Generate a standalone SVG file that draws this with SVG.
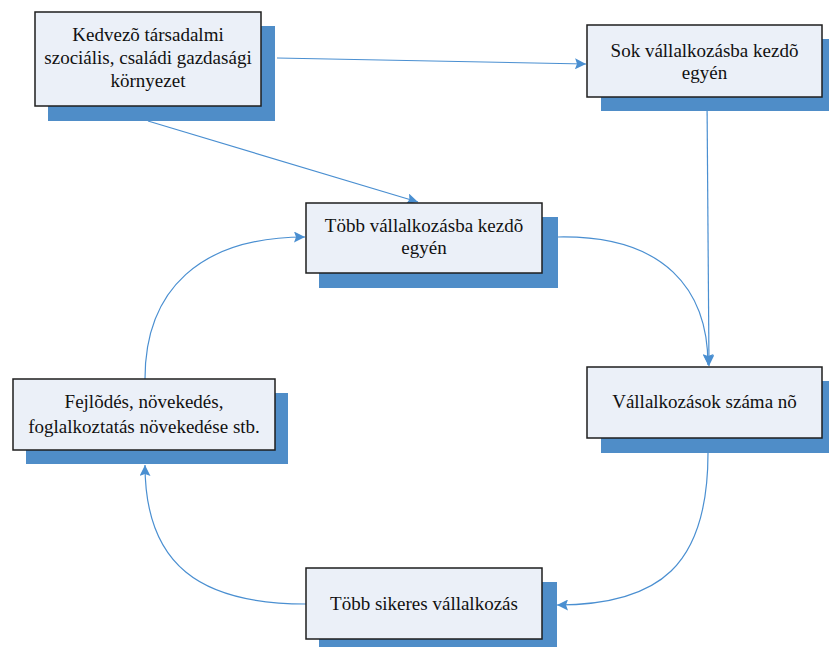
<svg xmlns="http://www.w3.org/2000/svg" width="829" height="647" viewBox="0 0 829 647">
<defs>
<marker id="arr" markerWidth="12" markerHeight="11" refX="11" refY="5.5" orient="auto" markerUnits="userSpaceOnUse">
<path d="M0,0 L11,5.5 L0,11 L2,5.5 Z" fill="#4A8FD1"/>
</marker>
<style>
.sh{fill:#4F8DC8;}
.bx{fill:#EBF0F8;stroke:#1E1E1E;stroke-width:1.5;}
.t{font-family:"Liberation Serif","Times New Roman",serif;font-size:19px;fill:#111;text-anchor:middle;}
.c{fill:none;stroke:#4A8FD1;stroke-width:1.2;marker-end:url(#arr);}
</style>
</defs>
<rect width="829" height="647" fill="#fff"/>
<g id="connectors">
<path class="c" d="M277,58 L586,64"/>
<path class="c" d="M148,121 L418,202"/>
<path class="c" d="M707,97 L709,366"/>
<path class="c" d="M558,237 C665,235 708,290 708,365"/>
<path class="c" d="M708,453 C708,565 660,605 557,605"/>
<path class="c" d="M306,604 C200,604 145,565 145,465"/>
<path class="c" d="M145,379 C145,290 200,237 305,237"/>
</g>
<g id="n1">
<rect class="sh" x="48" y="26" width="227" height="95"/>
<rect class="bx" x="35" y="12" width="226" height="94"/>
<text class="t" x="148" y="41">Kedvezõ társadalmi</text>
<text class="t" x="148" y="64">szociális, családi gazdasági</text>
<text class="t" x="148" y="87">környezet</text>
</g>
<g id="n2">
<rect class="sh" x="601" y="39" width="240" height="72"/>
<rect class="bx" x="587" y="25" width="235" height="72"/>
<text class="t" x="704.5" y="57">Sok vállalkozásba kezdõ</text>
<text class="t" x="704.5" y="79">egyén</text>
</g>
<g id="n3">
<rect class="sh" x="319" y="217" width="239" height="71"/>
<rect class="bx" x="306" y="203" width="236" height="70"/>
<text class="t" x="424" y="232">Több vállalkozásba kezdõ</text>
<text class="t" x="424" y="254">egyén</text>
</g>
<g id="n4">
<rect class="sh" x="26" y="393" width="262" height="71"/>
<rect class="bx" x="13" y="379" width="262" height="71"/>
<text class="t" x="144" y="408">Fejlõdés, növekedés,</text>
<text class="t" x="144" y="433">foglalkoztatás növekedése stb.</text>
</g>
<g id="n5">
<rect class="sh" x="601" y="381" width="240" height="72"/>
<rect class="bx" x="587" y="367" width="235" height="71"/>
<text class="t" x="704.5" y="408">Vállalkozások száma nõ</text>
</g>
<g id="n6">
<rect class="sh" x="319" y="582" width="238" height="65"/>
<rect class="bx" x="306" y="568" width="236" height="71"/>
<text class="t" x="424" y="610">Több sikeres vállalkozás</text>
</g>
</svg>
